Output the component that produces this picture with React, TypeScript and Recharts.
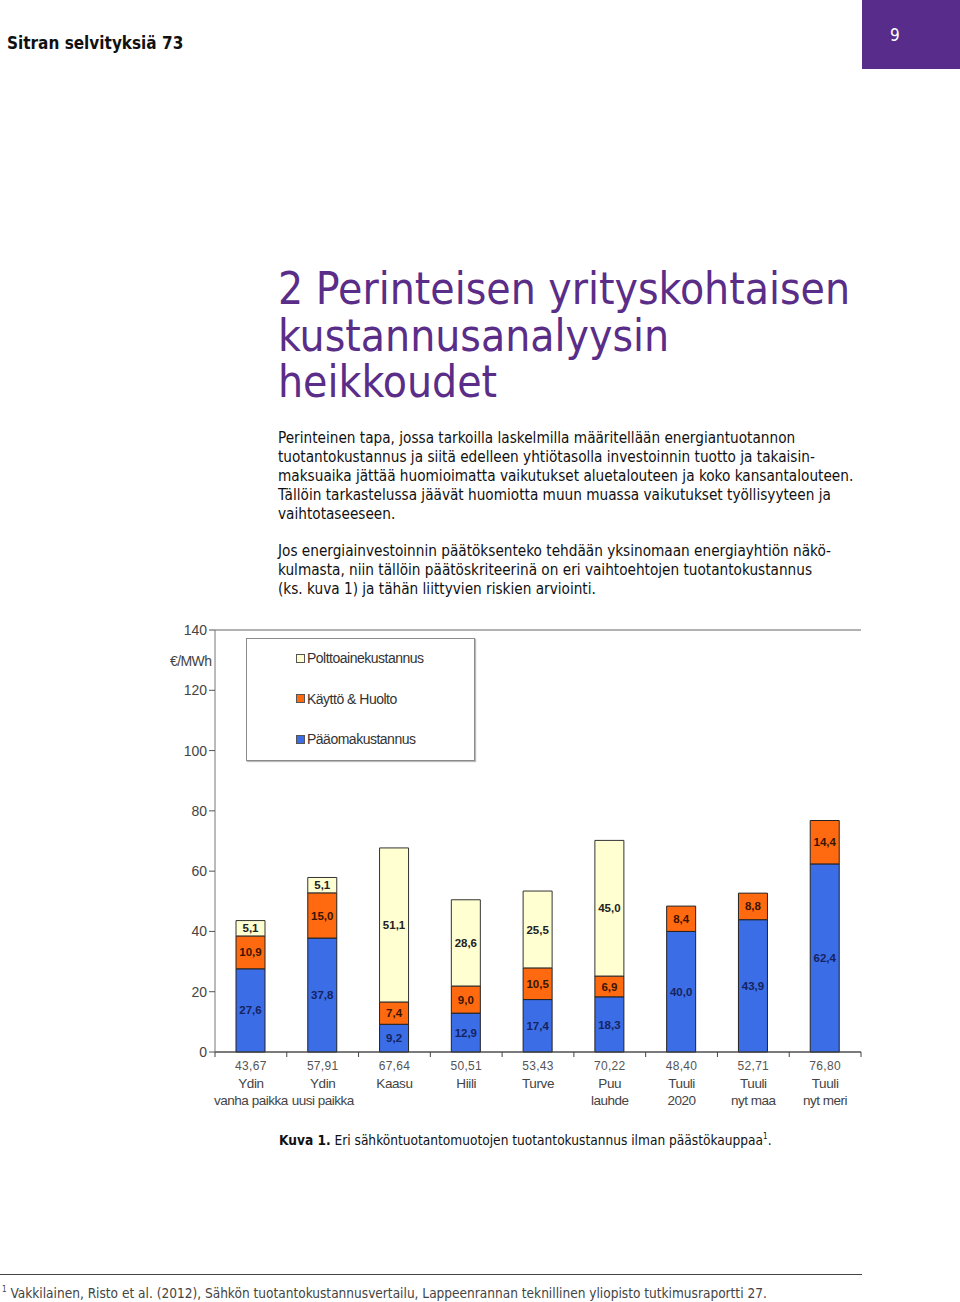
import React from 'react';
import { BarChart, Bar, XAxis, YAxis, CartesianGrid, Legend, LabelList } from 'recharts';

// ---- data ----
const categoriesLine1 = ['Ydin', 'Ydin', 'Kaasu', 'Hiili', 'Turve', 'Puu', 'Tuuli', 'Tuuli', 'Tuuli'];
const categoriesLine2 = ['vanha paikka', 'uusi paikka', '', '', '', 'lauhde', '2020', 'nyt maa', 'nyt meri'];
const totalLabels = ['43,67', '57,91', '67,64', '50,51', '53,43', '70,22', '48,40', '52,71', '76,80'];
const capitalCost = [27.6, 37.8, 9.2, 12.9, 17.4, 18.3, 40.0, 43.9, 62.4];
const operationCost = [10.9, 15.0, 7.4, 9.0, 10.5, 6.9, 8.4, 8.8, 14.4];
const fuelCost: (number | null)[] = [5.1, 5.1, 51.1, 28.6, 25.5, 45.0, null, null, null];
const yTicks = [0, 20, 40, 60, 80, 100, 120, 140];
const seriesNames = ['Polttoainekustannus', 'Käyttö & Huolto', 'Pääomakustannus'];

const COLORS = { fuel: '#FFFFD2', om: '#FF6A10', cap: '#3A6DE6' };

const data = categoriesLine1.map((n, i) => ({
  key: String(i),
  line1: n,
  line2: categoriesLine2[i],
  total: totalLabels[i],
  cap: capitalCost[i],
  om: operationCost[i],
  fuel: fuelCost[i],
}));

const fmt = (v: any) => (v == null ? '' : Number(v).toFixed(1).replace('.', ','));

const CHART_W = 710;
const CHART_H = 500;
const MARGIN = { top: 15, right: 9, left: 0, bottom: 0 };
const Y_W = 55;
const BAND = (CHART_W - MARGIN.left - MARGIN.right - Y_W) / data.length;
const arial = 'Arial, "Liberation Sans", sans-serif';

const XTick = (props: any) => {
  const { x, y, payload, index } = props;
  const i = payload.index ?? index;
  const d = data[i] || data[0];
  return (
    <g>
      <line x1={x - BAND / 2} y1={y - 8} x2={x - BAND / 2} y2={y - 3} stroke="#444" />
      {i === data.length - 1 && (
        <line x1={x + BAND / 2} y1={y - 8} x2={x + BAND / 2} y2={y - 3} stroke="#444" />
      )}
      <text x={x} y={y + 10} textAnchor="middle" fontSize={12} fill="#555" fontFamily={arial} letterSpacing={0.3}>
        {d.total}
      </text>
      <text x={x} y={y + 28} textAnchor="middle" fontSize={13.5} fill="#444" fontFamily={arial} letterSpacing={-0.4}>
        {d.line1}
      </text>
      {d.line2 && (
        <text x={x} y={y + 45} textAnchor="middle" fontSize={13.5} fill="#444" fontFamily={arial} letterSpacing={-0.5}>
          {d.line2}
        </text>
      )}
    </g>
  );
};

const LegendBox = () => {
  const items = [
    { name: seriesNames[0], color: COLORS.fuel },
    { name: seriesNames[1], color: COLORS.om },
    { name: seriesNames[2], color: COLORS.cap },
  ];
  return (
    <div
      style={{
        width: 227,
        height: 121,
        background: '#fff',
        border: '1px solid #8a8a8a',
        boxShadow: '1px 1px 1px #bbb',
        position: 'relative',
        fontFamily: arial,
      }}
    >
      {items.map((it, i) => (
        <div
          key={it.name}
          style={{
            position: 'absolute',
            left: 49,
            top: 11 + i * 40.5,
            display: 'flex',
            alignItems: 'center',
            fontSize: 14,
            color: '#333',
            letterSpacing: -0.5,
            whiteSpace: 'nowrap',
          }}
        >
          <span
            style={{
              display: 'inline-block',
              width: 7,
              height: 7,
              background: it.color,
              border: '1px solid #555',
              marginRight: 2,
            }}
          />
          {it.name}
        </div>
      ))}
    </div>
  );
};

const Chart = () => (
  <div style={{ position: 'absolute', left: 160, top: 615, width: CHART_W, height: CHART_H }}>
    <BarChart width={CHART_W} height={CHART_H} data={data} margin={MARGIN} barSize={29}>
      <CartesianGrid vertical={false} stroke="#666" strokeWidth={1.2} />
      <XAxis
        dataKey="key"
        height={63}
        axisLine={{ stroke: '#444' }}
        tickLine={false}
        interval={0}
        tick={<XTick />}
      />
      <YAxis
        yAxisId="l"
        width={Y_W}
        domain={[0, 140]}
        ticks={yTicks}
        interval={0}
        axisLine={{ stroke: '#777' }}
        tickLine={{ stroke: '#555' }}
        tickSize={6}
        tick={{ fontSize: 14, fill: '#444', fontFamily: arial }}
      />
      <YAxis yAxisId="r" orientation="right" width={0} domain={[0, 140]} tick={false} tickLine={false} axisLine={{ stroke: '#bbb' }} />
      <Legend
        layout="horizontal"
        verticalAlign="middle"
        align="center"
        content={<LegendBox />}
        wrapperStyle={{ left: 86, top: 23, width: 229, height: 123 }}
      />
      <Bar yAxisId="l" dataKey="cap" stackId="s" name={seriesNames[2]} fill={COLORS.cap} stroke="#222" strokeWidth={1} isAnimationActive={false}>
        <LabelList dataKey="cap" position="center" formatter={fmt} fill="#17235e" fontSize={11.5} fontWeight="bold" fontFamily={arial} />
      </Bar>
      <Bar yAxisId="l" dataKey="om" stackId="s" name={seriesNames[1]} fill={COLORS.om} stroke="#222" strokeWidth={1} isAnimationActive={false}>
        <LabelList dataKey="om" position="center" formatter={fmt} fill="#3a1500" fontSize={11.5} fontWeight="bold" fontFamily={arial} />
      </Bar>
      <Bar yAxisId="l" dataKey="fuel" stackId="s" name={seriesNames[0]} fill={COLORS.fuel} stroke="#333" strokeWidth={1} isAnimationActive={false}>
        <LabelList dataKey="fuel" position="center" formatter={fmt} fill="#222" fontSize={11.5} fontWeight="bold" fontFamily={arial} />
      </Bar>
    </BarChart>
    <div
      style={{
        position: 'absolute',
        left: 10,
        top: 38,
        fontSize: 14,
        color: '#444',
        fontFamily: arial,
        letterSpacing: -0.6,
      }}
    >
      €/MWh
    </div>
  </div>
);

const bodyFont = '"DejaVu Sans Condensed", "DejaVu Sans", sans-serif';

const para1 = [
  'Perinteinen tapa, jossa tarkoilla laskelmilla määritellään energiantuotannon',
  'tuotantokustannus ja siitä edelleen yhtiötasolla investoinnin tuotto ja takaisin-',
  'maksuaika jättää huomioimatta vaikutukset aluetalouteen ja koko kansantalouteen.',
  'Tällöin tarkastelussa jäävät huomiotta muun muassa vaikutukset työllisyyteen ja',
  'vaihtotaseeseen.',
];
const para2 = [
  'Jos energiainvestoinnin päätöksenteko tehdään yksinomaan energiayhtiön näkö-',
  'kulmasta, niin tällöin päätöskriteerinä on eri vaihtoehtojen tuotantokustannus',
  '(ks. kuva 1) ja tähän liittyvien riskien arviointi.',
];
const titleLines = ['2 Perinteisen yrityskohtaisen', 'kustannusanalyysin', 'heikkoudet'];

export default function App() {
  return (
    <div
      style={{
        position: 'absolute',
        left: 0,
        top: 0,
        width: 960,
        height: 1302,
        background: '#fff',
        overflow: 'hidden',
        fontFamily: bodyFont,
        fontStretch: 'condensed',
      }}
    >
      {/* header */}
      <div style={{ position: 'absolute', left: 7, top: 33, fontSize: 17, fontWeight: 'bold', color: '#111', whiteSpace: 'nowrap' }}>
        Sitran selvityksiä 73
      </div>
      <div style={{ position: 'absolute', left: 862, top: 0, width: 98, height: 69, background: '#582C8A' }}>
        <div style={{ position: 'absolute', left: 28, top: 25, fontSize: 17, color: '#fff' }}>9</div>
      </div>

      {/* title */}
      <div style={{ position: 'absolute', left: 278, top: 266, fontSize: 44, lineHeight: '46.5px', color: '#5A2D88', whiteSpace: 'nowrap' }}>
        {titleLines.map((l) => (
          <div key={l}>{l}</div>
        ))}
      </div>

      {/* body */}
      <div style={{ position: 'absolute', left: 278, top: 429, fontSize: 15.2, lineHeight: '19px', color: '#111', whiteSpace: 'nowrap' }}>
        {para1.map((l) => (
          <div key={l}>{l}</div>
        ))}
        <div style={{ height: 18 }} />
        {para2.map((l) => (
          <div key={l}>{l}</div>
        ))}
      </div>

      <Chart />

      {/* caption */}
      <div style={{ position: 'absolute', left: 279, top: 1132, fontSize: 13.6, color: '#111', whiteSpace: 'nowrap' }}>
        <b>Kuva 1.</b> Eri sähköntuotantomuotojen tuotantokustannus ilman päästökauppaa<sup style={{ fontSize: 8 }}>1</sup>.
      </div>

      {/* footnote */}
      <div style={{ position: 'absolute', left: 0, top: 1274, width: 862, height: 1, background: '#444' }} />
      <div style={{ position: 'absolute', left: 2, top: 1285, fontSize: 13.55, color: '#444', whiteSpace: 'nowrap' }}>
        <sup style={{ fontSize: 8 }}>1</sup> Vakkilainen, Risto et al. (2012), Sähkön tuotantokustannusvertailu, Lappeenrannan teknillinen yliopisto tutkimusraportti 27.
      </div>
    </div>
  );
}
